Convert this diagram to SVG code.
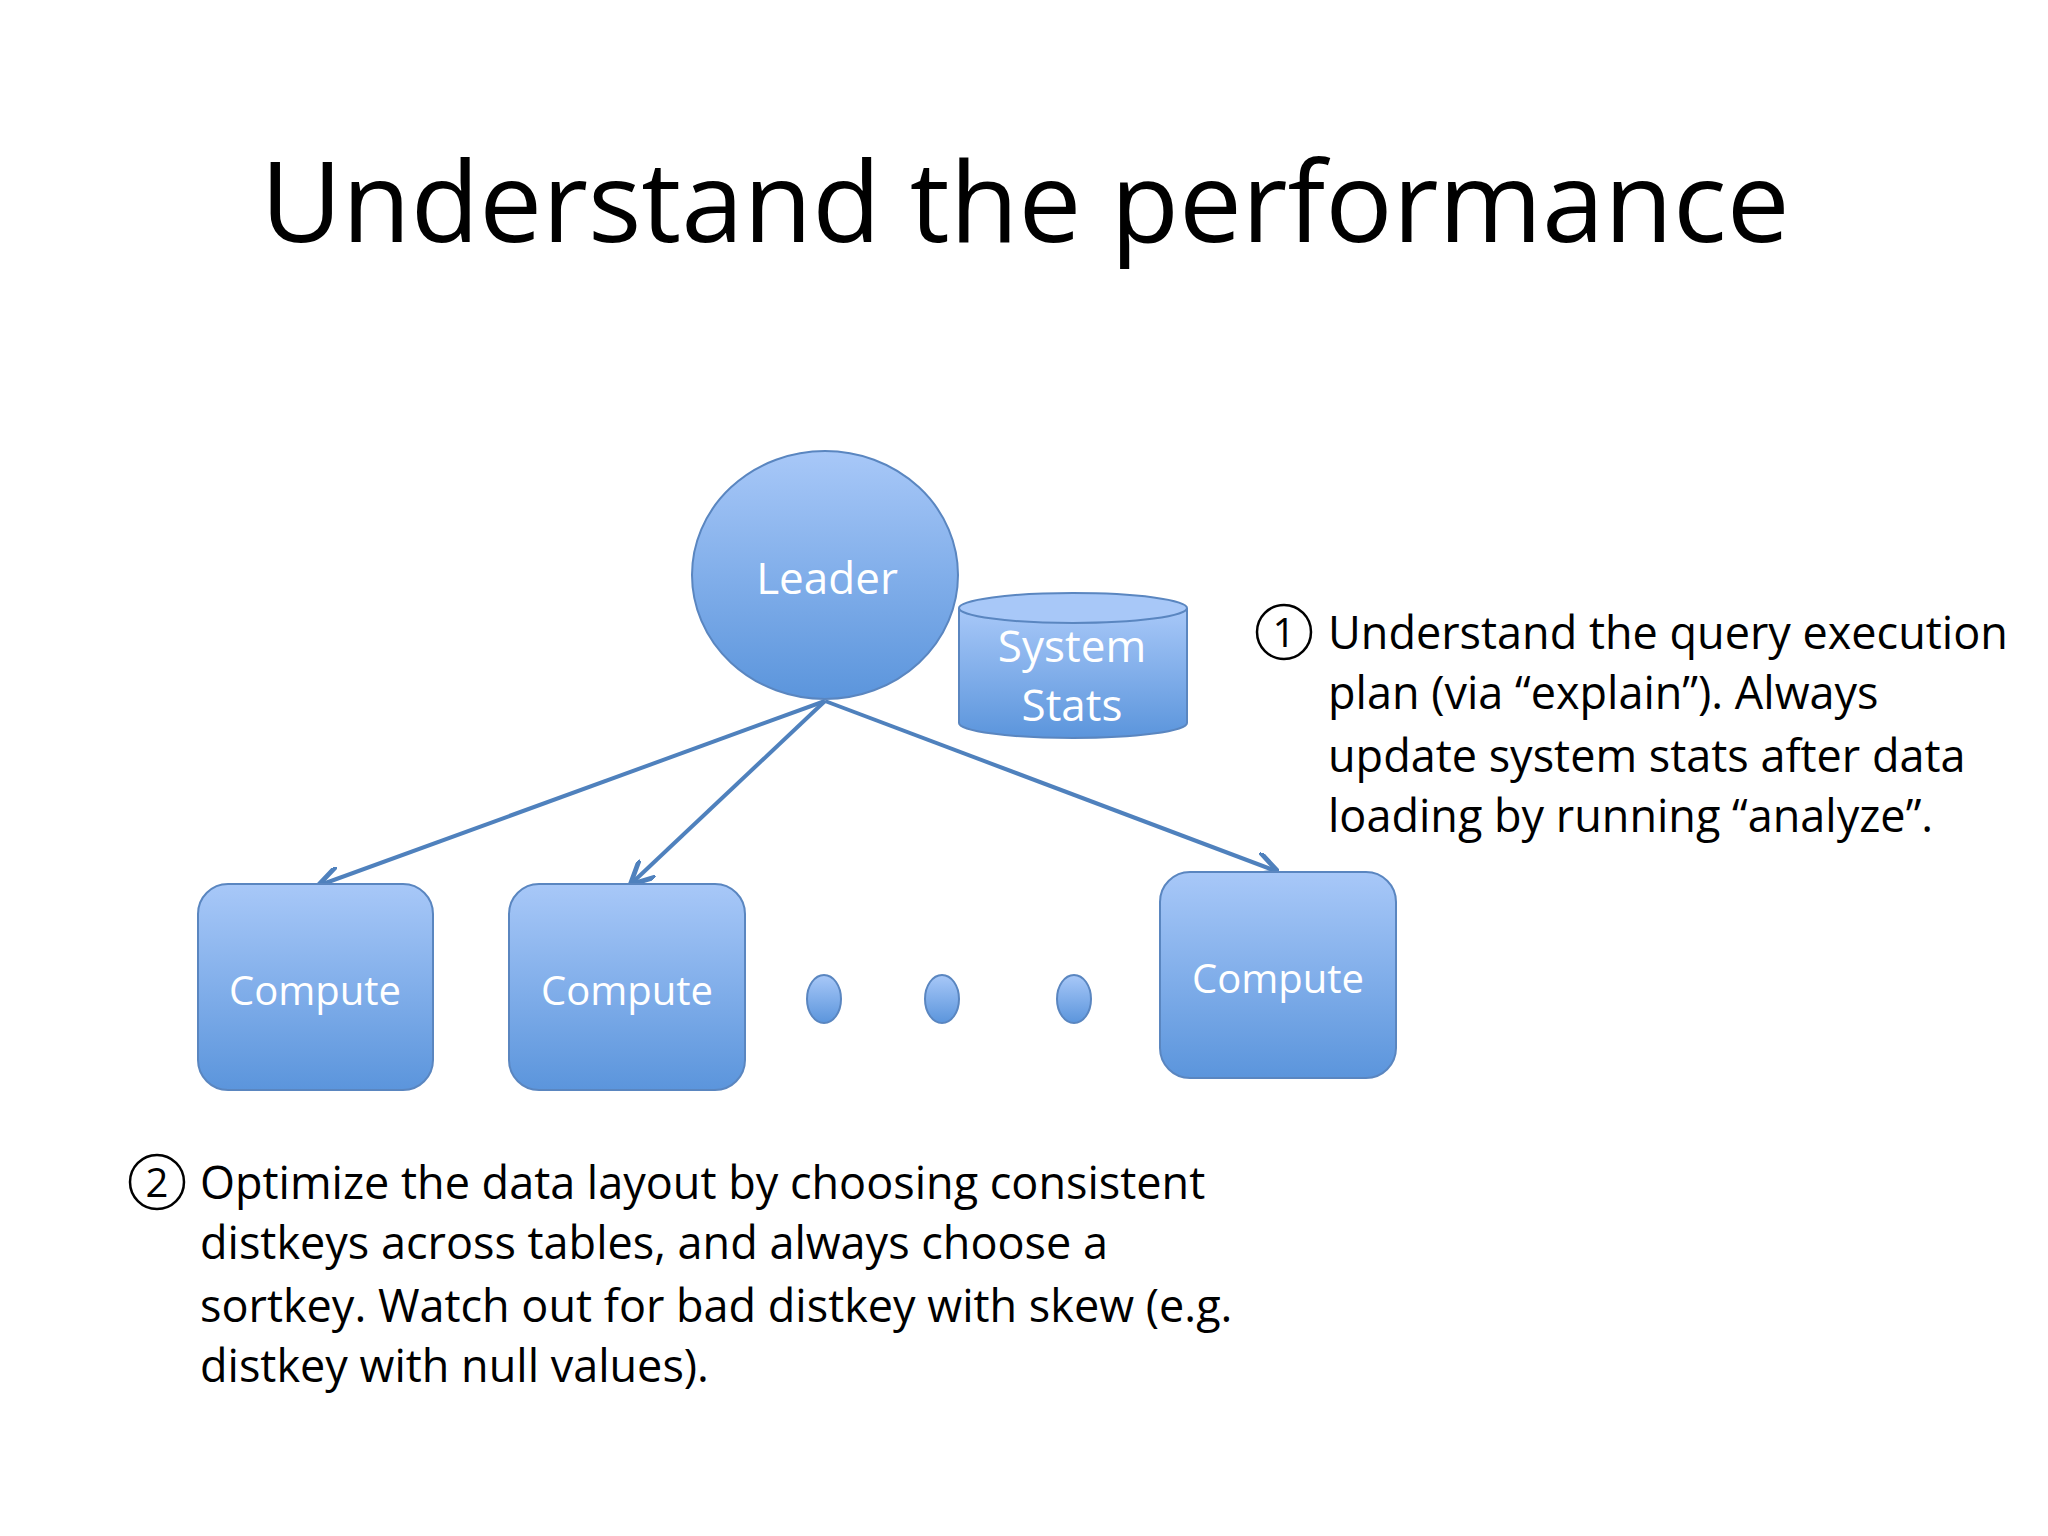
<svg xmlns="http://www.w3.org/2000/svg" width="2048" height="1536" viewBox="0 0 2048 1536">
<style>
.t{font-family:"Open Sans","Liberation Sans",sans-serif;fill:#000}
.w{font-family:"Open Sans","Liberation Sans",sans-serif;fill:#fff;text-anchor:middle}
.n{fill:url(#g);stroke:#5a86c0;stroke-width:2}
.c{stroke:#4f81bd;stroke-width:4;fill:none;marker-end:url(#a)}
</style>
<defs>
<linearGradient id="g" x1="0" y1="0" x2="0" y2="1"><stop offset="0" stop-color="#a8c8f8"/><stop offset="1" stop-color="#5b95dc"/></linearGradient>
<marker id="a" viewBox="0 0 10 10" refX="9" refY="5" markerWidth="6" markerHeight="6" orient="auto"><path d="M0,0 L10,5 L0,10" fill="none" stroke="#4f81bd" stroke-width="2"/></marker>
</defs>
<rect width="2048" height="1536" fill="#fff"/>
<text class="t" x="1025" y="242" font-size="112" text-anchor="middle">Understand the performance</text>
<g id="connectors">
<line class="c" x1="825" y1="701" x2="320" y2="885"/>
<line class="c" x1="825" y1="701" x2="632" y2="883"/>
<line class="c" x1="825" y1="701" x2="1276" y2="871"/>
</g>
<g id="leader"><ellipse class="n" cx="825" cy="575" rx="133" ry="124"/><text class="w" x="827" y="594" font-size="44">Leader</text></g>
<g id="stats">
<path class="n" d="M959,608 L959,723 A114,15 0 0 0 1187,723 L1187,608"/>
<ellipse cx="1073" cy="608" rx="114" ry="15" fill="#a8c8f8" stroke="#5a86c0" stroke-width="2"/>
<text class="w" x="1072" y="662" font-size="44">System</text><text class="w" x="1072" y="721" font-size="44">Stats</text>
</g>
<g id="compute1"><rect class="n" x="198" y="884" width="235" height="206" rx="30"/><text class="w" x="315" y="1005" font-size="40">Compute</text></g>
<g id="compute2"><rect class="n" x="509" y="884" width="236" height="206" rx="30"/><text class="w" x="627" y="1005" font-size="40">Compute</text></g>
<g id="compute3"><rect class="n" x="1160" y="872" width="236" height="206" rx="30"/><text class="w" x="1278" y="993" font-size="40">Compute</text></g>
<g id="dots">
<ellipse class="n" cx="824" cy="999" rx="17" ry="24"/>
<ellipse class="n" cx="942" cy="999" rx="17" ry="24"/>
<ellipse class="n" cx="1074" cy="999" rx="17" ry="24"/>
</g>
<g id="note1">
<circle cx="1284" cy="632" r="27" fill="none" stroke="#000" stroke-width="2.5"/>
<text class="t" x="1284" y="647" font-size="40" text-anchor="middle">1</text>
<text class="t" font-size="45"><tspan x="1328" y="649">Understand the query execution</tspan><tspan x="1328" y="709">plan (via “explain”).  Always</tspan><tspan x="1328" y="772">update system stats after data</tspan><tspan x="1328" y="832">loading by running “analyze”.</tspan></text>
</g>
<g id="note2">
<circle cx="157" cy="1182" r="27" fill="none" stroke="#000" stroke-width="2.5"/>
<text class="t" x="157" y="1197" font-size="40" text-anchor="middle">2</text>
<text class="t" font-size="45"><tspan x="200" y="1199">Optimize the data layout by choosing consistent</tspan><tspan x="200" y="1259">distkeys across tables, and always choose a</tspan><tspan x="200" y="1322">sortkey.  Watch out for bad distkey with skew (e.g.</tspan><tspan x="200" y="1382">distkey with null values).</tspan></text>
</g>
</svg>
